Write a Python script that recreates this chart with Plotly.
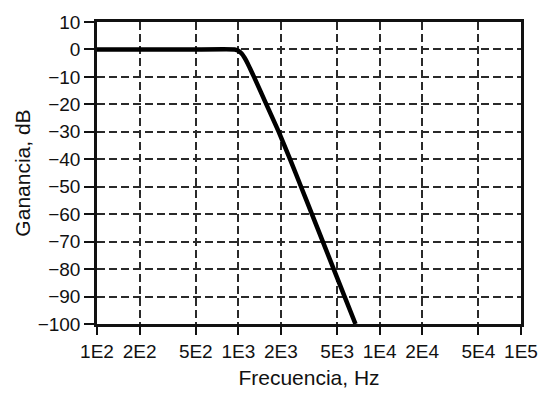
import plotly.graph_objects as go

# Frequency response (Hz, dB)
freq_hz = [100, 500, 942, 1005, 1055, 1107, 1162, 1220, 1291, 1579,
           1932, 2325, 2777, 3317, 3961, 4730, 5649, 6745]
gain_db = [0, 0, 0, -0.5, -1.5, -3, -5, -7.3, -10, -20,
           -30, -40, -50, -60, -70, -80, -90, -100]

x_tick_vals = [100, 200, 500, 1000, 2000, 5000, 10000, 20000, 50000, 100000]
x_tick_text = ["1E2", "2E2", "5E2", "1E3", "2E3", "5E3", "1E4", "2E4", "5E4", "1E5"]
y_tick_vals = [10, 0, -10, -20, -30, -40, -50, -60, -70, -80, -90, -100]

x_title = "Frecuencia, Hz"
y_title = "Ganancia, dB"

fig = go.Figure()
fig.add_trace(go.Scatter(
    x=freq_hz, y=gain_db, mode="lines",
    line=dict(color="black", width=4.5, shape="spline", smoothing=0.2),
    showlegend=False, hoverinfo="skip",
))

base_font = "Liberation Sans, Arial, Helvetica, sans-serif"
narrow_font = "Liberation Sans Narrow, Arial Narrow, Liberation Sans, Arial, sans-serif"

fig.update_layout(
    width=550, height=399,
    margin=dict(l=97, r=25, t=16, b=75),
    paper_bgcolor="white", plot_bgcolor="white",
    font=dict(family=base_font, color="#111", size=18),
)
fig.update_xaxes(
    type="log", range=[2, 5],
    tickvals=x_tick_vals, ticktext=x_tick_text,
    tickfont=dict(family=narrow_font, size=19, color="#111"),
    ticks="outside", ticklen=8, tickwidth=2, tickcolor="#111",
    showline=True, linewidth=2.5, linecolor="#111", mirror=True,
    showgrid=True, gridcolor="#2a2a2a", gridwidth=1.5, griddash="8px,4px",
    zeroline=False,
    title=dict(text=x_title, font=dict(family=base_font, size=21, color="#111"), standoff=10),
)
fig.update_yaxes(
    range=[-100, 10],
    tickvals=y_tick_vals,
    tickfont=dict(family=base_font, size=19, color="#111"),
    ticks="outside", ticklen=10, tickwidth=2, tickcolor="#111",
    showline=True, linewidth=2.5, linecolor="#111", mirror=True,
    showgrid=True, gridcolor="#2a2a2a", gridwidth=1.5, griddash="8px,4px",
    zeroline=False,
    title=dict(text=y_title, font=dict(family=base_font, size=21, color="#111"), standoff=2),
)

fig.write_html("out.html")
